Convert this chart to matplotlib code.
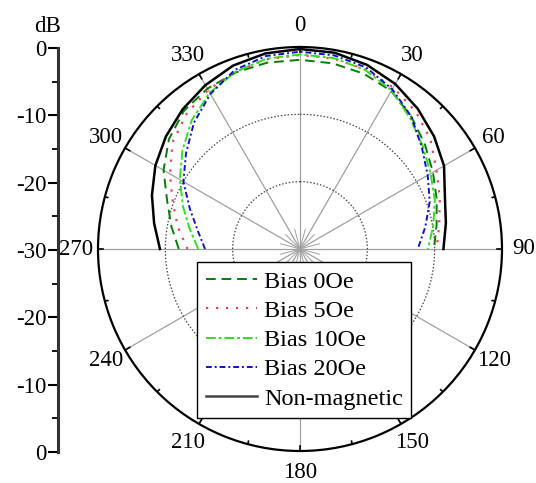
import numpy as np
import matplotlib.pyplot as plt

plt.rcParams['font.family'] = ['Liberation Serif', 'DejaVu Serif']

# angle (deg, clockwise from top) and gain (dB)
angles = [-90, -80, -70, -60, -50, -40, -30, -20, -10, 0,
          10, 20, 30, 40, 50, 60, 70, 80, 90]
bias_0 = [-12.0, -10.6, -9.0, -6.6, -4.6, -3.2, -2.5, -2.1, -1.9, -1.9,
          -2.0, -2.3, -2.9, -4.3, -5.8, -7.2, -8.4, -9.4, -10.1]
bias_5 = [-13.3, -11.6, -9.9, -7.7, -5.3, -3.8, -2.7, -2.0, -1.4, -1.2,
          -1.3, -1.6, -2.3, -3.3, -4.7, -6.6, -7.9, -9.0, -9.7]
bias_10 = [-14.9, -13.4, -11.5, -9.4, -7.2, -5.0, -3.2, -2.0, -1.3, -1.1,
           -1.2, -1.7, -2.8, -4.6, -6.2, -7.6, -8.7, -9.9, -11.0]
bias_20 = [-15.9, -14.6, -12.6, -10.0, -7.9, -5.5, -3.4, -1.7, -0.9, -0.7,
           -0.8, -1.3, -2.6, -4.3, -6.4, -8.1, -9.5, -11.1, -12.5]
non_magnetic = [-9.2, -8.0, -6.6, -5.2, -4.0, -2.9, -1.9, -1.0, -0.5, -0.3,
                -0.4, -0.9, -1.7, -2.8, -4.0, -5.3, -7.1, -8.0, -8.7]

labels = ['Bias 0Oe', 'Bias 5Oe', 'Bias 10Oe', 'Bias 20Oe', 'Non-magnetic']
angle_ticks = [0, 30, 60, 90, 120, 150, 180, 210, 240, 270, 300, 330]
db_ticks = [0, 10, 20, 30, 40, 50, 60]
db_ticklabels = ['0', '-10', '-20', '-30', '-20', '-10', '0']

W, H = 536, 483
FS = 16.5

fig = plt.figure(figsize=(W / 100, H / 100), dpi=100)
ax = fig.add_axes([98 / W, 32 / H, 404 / W, 404 / H], projection='polar')
ax.set_theta_zero_location('N')
ax.set_theta_direction(-1)
ax.set_rlim(-30, 0)
ax.grid(False)
ax.set_xticks([])
ax.set_yticks([])
ax.spines['polar'].set_linewidth(1.6)

# spokes and dotted circles
for a in range(0, 360, 30):
    t = np.deg2rad(a)
    ax.plot([t, t], [-30, 0], color='#a0a0a0', lw=0.9, zorder=1)
for a in range(15, 360, 30):
    t = np.deg2rad(a)
    ax.plot([t, t], [-30, -27], color='#a0a0a0', lw=0.7, zorder=1)
th = np.linspace(0, 2 * np.pi, 400)
for rr in (-20, -10):
    ax.plot(th, np.full_like(th, rr), color='#444444', lw=0.9,
            ls=(0, (1.2, 1.5)), zorder=1)

# ticks on the outer circle
for a in range(0, 360, 15):
    t = np.deg2rad(a)
    L = 0.8 if a % 30 == 0 else 0.45
    ax.plot([t, t], [-L, 0], color='k', lw=1.2, zorder=3)
for a in angle_ticks:
    ax.text(np.deg2rad(a), 3.2, str(a), ha='center', va='center', fontsize=FS)

t = np.deg2rad(angles)
ax.plot(t, bias_0, color='#0a7a0a', lw=1.4, ls=(0, (5, 3)), label=labels[0])
ax.plot(t, bias_5, color='#e8405a', lw=1.6, ls=(0, (1, 3.5)), label=labels[1])
ax.plot(t, bias_10, color='#33dd22', lw=1.4, ls=(0, (5, 1.5, 1.5, 1.5)), label=labels[2])
ax.plot(t, bias_20, color='#1010cc', lw=1.4, ls=(0, (3, 1.5, 1, 1.5)), label=labels[3])
ax.plot(t, non_magnetic, color='k', lw=1.8, label=labels[4])

leg = ax.legend(loc='upper left', bbox_to_anchor=(197 / W, 1 - 262 / H),
                bbox_transform=fig.transFigure, borderaxespad=0,
                fontsize=17.5, handlelength=2.1, handletextpad=0.3,
                labelspacing=0.3, borderpad=0.35, fancybox=False,
                framealpha=1, edgecolor='k')
leg.get_frame().set_linewidth(1.0)
leg.get_lines()[4].set_color('#444444')

# separate radial scale on the left
ax2 = fig.add_axes([58 / W, 31 / H, 0.0001, 404 / H])
ax2.set_ylim(0, 60)
for s in ('top', 'right', 'bottom'):
    ax2.spines[s].set_visible(False)
ax2.spines['left'].set_linewidth(2.2)
ax2.spines['left'].set_color('#333333')
ax2.set_xticks([])
ax2.set_yticks(db_ticks)
ax2.set_yticklabels(db_ticklabels, fontsize=FS)
ax2.set_yticks(np.arange(5, 60, 10), minor=True)
ax2.tick_params(axis='y', which='major', direction='out', length=7, width=1.5, pad=1)
ax2.tick_params(axis='y', which='minor', direction='out', length=4, width=1.3)
fig.text(48 / W, 1 - 26 / H, 'dB', ha='center', va='center', fontsize=FS)

fig.savefig('out.png', dpi=100)
